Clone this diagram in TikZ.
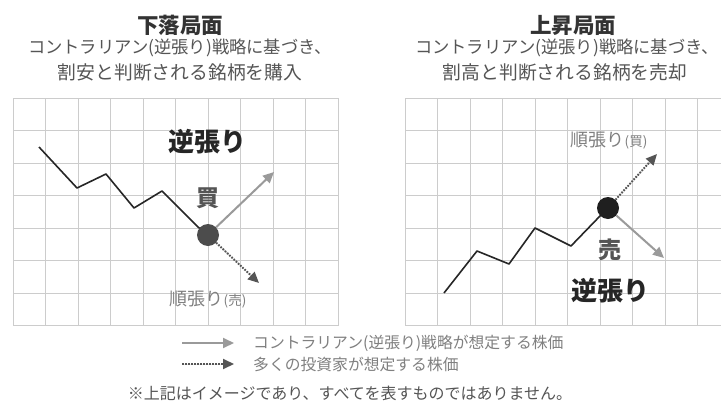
\documentclass[tikz,border=0pt]{standalone}
\usepackage{fontspec}
\setmainfont{Noto Sans CJK JP}
\usetikzlibrary{arrows.meta}
\definecolor{gridgray}{HTML}{CCCCCC}
\definecolor{contragray}{HTML}{9A9A9A}
\definecolor{trendgray}{HTML}{555555}
\definecolor{textgray}{HTML}{555555}
\definecolor{titlegray}{HTML}{333333}
\tikzset{
  gridline/.style={draw=gridgray, line width=0.8pt},
  priceline/.style={draw=black!85, line width=1.6pt, line join=round},
  pivot/.style={circle, inner sep=0pt, minimum size=22pt},
  contra/.style={-{Triangle[length=11pt,width=10pt]}, draw=contragray, fill=contragray, line width=2pt},
  trend/.style={-{Triangle[length=11pt,width=10pt]}, draw=trendgray, fill=trendgray, line width=2pt, dash pattern=on 1.6pt off 1.4pt},
  phase/.style={font=\fontsize{21.5}{23}\selectfont\bfseries, text=titlegray, inner sep=0pt},
  note/.style={font=\fontsize{17.3}{19}\selectfont, text=textgray, inner sep=0pt},
  bigword/.style={font=\fontsize{26}{28}\selectfont\bfseries, text=black!85, inner sep=0pt},
  sideword/.style={font=\fontsize{23}{25}\selectfont\bfseries, text=textgray, inner sep=0pt},
  smallword/.style={font=\fontsize{18}{20}\selectfont, text=gray, inner sep=0pt},
  legendtext/.style={font=\fontsize{15.8}{17}\selectfont, text=gray, anchor=west, inner sep=0pt},
}
\begin{document}
\begin{tikzpicture}[x=1pt, y=-1pt]
  \useasboundingbox (0,0) rectangle (721,410);
  \clip (0,0) rectangle (721,410);
  \fill[white] (0,0) rectangle (721,410);

  % titles
  \node[phase] (downtitle) at (180,25) {下落局面};
  \node[note] (downnote1) at (180,48) {コントラリアン(逆張り)戦略に基づき、};
  \node[note, font=\fontsize{18.8}{20}\selectfont] (downnote2) at (180,72) {割安と判断される銘柄を購入};
  \node[phase] (uptitle) at (573,25) {上昇局面};
  \node[note] (upnote1) at (567,48) {コントラリアン(逆張り)戦略に基づき、};
  \node[note, font=\fontsize{18.8}{20}\selectfont] (upnote2) at (565,72) {割高と判断される銘柄を売却};

  % grids
  \foreach \x in {0,...,10} {
    \draw[gridline] (13+32.5*\x,98) -- (13+32.5*\x,325.5);
    \draw[gridline] (405+32.5*\x,98) -- (405+32.5*\x,325.5);
  }
  \foreach \y in {0,...,7} {
    \draw[gridline] (13,98+32.5*\y) -- (338,98+32.5*\y);
    \draw[gridline] (405,98+32.5*\y) -- (730,98+32.5*\y);
  }

  % falling phase
  \coordinate (d1) at (39,147);
  \coordinate (d2) at (77,188);
  \coordinate (d3) at (106,174);
  \coordinate (d4) at (134,208);
  \coordinate (d5) at (162,191);
  \coordinate (d6) at (198,227);
  \node[pivot] (buy) at (208,235) {};
  \draw[priceline] (d1) -- (d2) -- (d3) -- (d4) -- (d5) -- (d6) -- (buy.center);
  \node[pivot, fill=black!70] at (buy) {};
  \coordinate (buyup) at (274,172);
  \coordinate (buydown) at (259,283);
  \draw[contra] (buy) -- (buyup);
  \draw[trend] (buy) -- (buydown);
  \node[bigword] (downcontra) at (207,142) {逆張り};
  \node[sideword] (buyword) at (208,198) {買};
  \node[smallword] (downtrend) at (208,300) {順張り{\fontsize{13.5}{15}\selectfont(売)}};

  % rising phase
  \coordinate (u1) at (444,293);
  \coordinate (u2) at (477,251);
  \coordinate (u3) at (509,264);
  \coordinate (u4) at (535,228);
  \coordinate (u5) at (571,246);
  \coordinate (u6) at (600,216);
  \node[pivot] (sell) at (608,208) {};
  \draw[priceline] (u1) -- (u2) -- (u3) -- (u4) -- (u5) -- (u6) -- (sell.center);
  \node[pivot, fill=black!88] at (sell) {};
  \coordinate (sellup) at (657,154);
  \coordinate (selldown) at (664,258);
  \draw[trend] (sell) -- (sellup);
  \draw[contra] (sell) -- (selldown);
  \node[smallword] (uptrend) at (609,141) {順張り{\fontsize{13.5}{15}\selectfont(買)}};
  \node[sideword] (sellword) at (610,250) {売};
  \node[bigword] (upcontra) at (610,291) {逆張り};

  % legend
  \coordinate (lg1a) at (182,343);
  \coordinate (lg1b) at (234,343);
  \coordinate (lg2a) at (182,364);
  \coordinate (lg2b) at (234,364);
  \draw[contra] (lg1a) -- (lg1b);
  \draw[trend] (lg2a) -- (lg2b);
  \node[legendtext] (lgtext1) at (253,343) {コントラリアン(逆張り)戦略が想定する株価};
  \node[legendtext] (lgtext2) at (253,364) {多くの投資家が想定する株価};

  % footnote
  \node[note, font=\fontsize{16}{18}\selectfont] (footnote) at (350,393) {※上記はイメージであり、すべてを表すものではありません。};
\end{tikzpicture}
\end{document}
